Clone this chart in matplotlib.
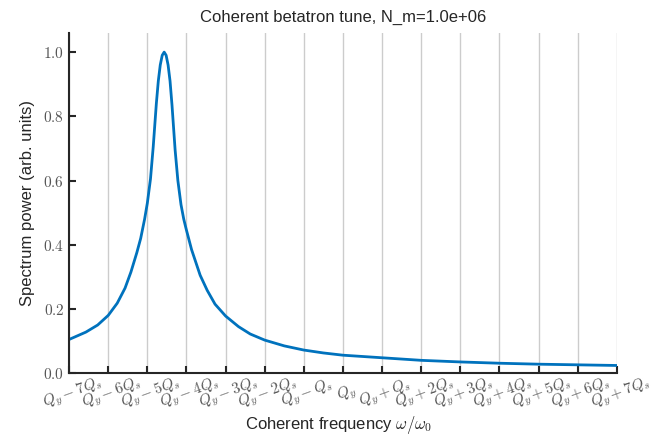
import numpy as np
import matplotlib
matplotlib.use("Agg")
import matplotlib.pyplot as plt

plt.rcParams['font.family'] = ['Liberation Sans', 'DejaVu Sans']
plt.rcParams['mathtext.fontset'] = 'cm'

# spectrum (x in units of Q_s offset from Q_y)
freq = [-7.0, -6.57, -6.27, -6.0, -5.77, -5.57, -5.42, -5.27, -5.17, -5.07, -5.0,
        -4.92, -4.85, -4.77, -4.72, -4.67, -4.62, -4.57, -4.52, -4.47, -4.42,
        -4.37, -4.29, -4.22, -4.14, -4.07, -4.01, -3.87, -3.65, -3.47, -3.27,
        -3.0, -2.67, -2.37, -2.0, -1.5, -1.0, -0.5, 0.0, 0.5, 1.0, 1.5, 2.0,
        2.5, 3.0, 4.0, 5.0, 6.0, 7.0]
power = [0.105, 0.128, 0.15, 0.18, 0.218, 0.265, 0.315, 0.375, 0.42, 0.48, 0.53,
         0.605, 0.705, 0.84, 0.91, 0.96, 0.99, 1.0, 0.99, 0.96, 0.91,
         0.835, 0.695, 0.60, 0.525, 0.48, 0.45, 0.385, 0.305, 0.258, 0.215,
         0.178, 0.145, 0.122, 0.103, 0.085, 0.072, 0.063, 0.056, 0.052, 0.048, 0.044, 0.040,
         0.0375, 0.035, 0.031, 0.028, 0.026, 0.024]

tick_pos = list(range(-7, 8))
tick_labels = []
for k in tick_pos:
    if k == 0:
        tick_labels.append(r"$Q_y$")
    elif k < 0:
        n = "" if k == -1 else str(-k)
        tick_labels.append(r"$Q_y - %sQ_s$" % n)
    else:
        n = "" if k == 1 else str(k)
        tick_labels.append(r"$Q_y + %sQ_s$" % n)

fig = plt.figure(figsize=(6.52, 4.38), dpi=100)
ax = fig.add_axes([0.106, 0.148, 0.840, 0.777])

ax.plot(freq, power, color='#0072BD', lw=2)
ax.set_xlim(-7, 7)
ax.set_ylim(0, 1.06)
ax.set_yticks([0.0, 0.2, 0.4, 0.6, 0.8, 1.0])
ax.set_yticklabels([r"$%.1f$" % v for v in [0.0, 0.2, 0.4, 0.6, 0.8, 1.0]])
ax.set_xticks(tick_pos)
ax.set_xticklabels(tick_labels, rotation=20, rotation_mode='anchor', ha='center', va='top')
ax.tick_params(axis='both', direction='in', length=5, width=1.5, color='#262626',
               labelcolor='#555555', labelsize=11)
ax.tick_params(axis='x', pad=8, labelsize=11)
ax.grid(True, axis='x', color='#cccccc', lw=1)
ax.set_axisbelow(True)
for s in ['top', 'right']:
    ax.spines[s].set_visible(False)
for s in ['left', 'bottom']:
    ax.spines[s].set_color('#262626')
    ax.spines[s].set_linewidth(1.5)

ax.set_title("Coherent betatron tune, N_m=1.0e+06", fontsize=12, color='#262626', pad=8)
ax.set_ylabel("Spectrum power (arb. units)", fontsize=12, color='#262626', labelpad=6)
fig.text(0.52, 0.004, r"Coherent frequency $\omega/\omega_0$", fontsize=12,
         color='#262626', ha='center', va='bottom')

plt.savefig("out.png", dpi=100)
